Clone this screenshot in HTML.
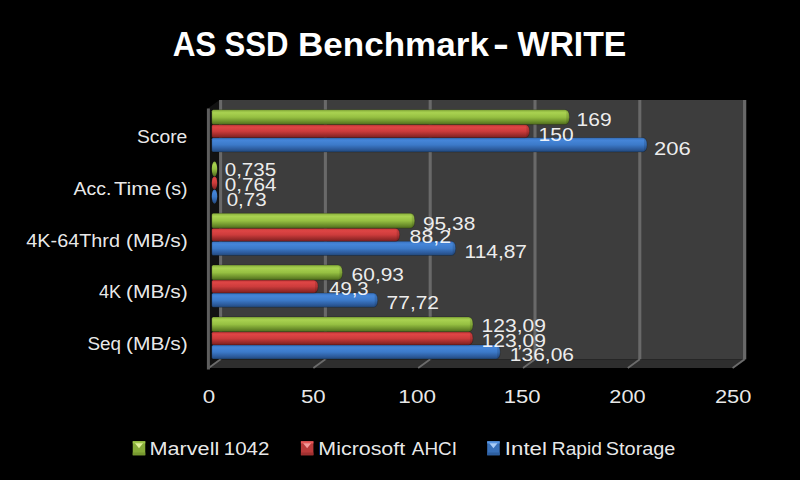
<!DOCTYPE html>
<html><head><meta charset="utf-8"><title>AS SSD Benchmark - WRITE</title>
<style>
html,body{margin:0;padding:0;background:#000;}
body{width:800px;height:480px;overflow:hidden;font-family:"Liberation Sans",sans-serif;}
svg{display:block;position:absolute;left:0;top:0;}
text{font-family:"Liberation Sans",sans-serif;fill:#fff;fill-opacity:.93;}
</style></head><body>
<svg width="800" height="480" viewBox="0 0 800 480">
<defs>
<linearGradient id="gG" x1="0" y1="0" x2="0" y2="1">
<stop offset="0" stop-color="#86ad3a"/><stop offset="0.2" stop-color="#a9d251"/><stop offset="0.5" stop-color="#96c042"/><stop offset="0.8" stop-color="#6c8f2b"/><stop offset="1" stop-color="#4e6a1d"/></linearGradient>
<linearGradient id="gR" x1="0" y1="0" x2="0" y2="1">
<stop offset="0" stop-color="#c43838"/><stop offset="0.2" stop-color="#de4545"/><stop offset="0.5" stop-color="#cd3c3c"/><stop offset="0.8" stop-color="#9c2b2b"/><stop offset="1" stop-color="#7a2020"/></linearGradient>
<linearGradient id="gB" x1="0" y1="0" x2="0" y2="1">
<stop offset="0" stop-color="#3873c0"/><stop offset="0.2" stop-color="#4585d8"/><stop offset="0.5" stop-color="#3c7ac9"/><stop offset="0.8" stop-color="#2d5c9e"/><stop offset="1" stop-color="#224879"/></linearGradient>
</defs>
<rect width="800" height="480" fill="#000"/>

<rect x="219.5" y="100" width="526.75" height="259.3" fill="#3d3d3d"/>
<polygon points="219.5,100 207.5,108.7 207.5,368.0 219.5,359.3" fill="#121212"/>
<polygon points="219.5,359.3 746.25,359.3 734.25,368.0 207.5,368.0" fill="#2e2e2e"/>
<line x1="220.60" y1="100" x2="220.60" y2="359.3" stroke="#696969" stroke-width="3.1"/>
<line x1="220.60" y1="359.3" x2="208.60" y2="368.0" stroke="#6c6c6c" stroke-width="1.8"/>
<line x1="325.40" y1="100" x2="325.40" y2="359.3" stroke="#696969" stroke-width="3.1"/>
<line x1="325.40" y1="359.3" x2="313.40" y2="368.0" stroke="#6c6c6c" stroke-width="1.8"/>
<line x1="430.20" y1="100" x2="430.20" y2="359.3" stroke="#696969" stroke-width="3.1"/>
<line x1="430.20" y1="359.3" x2="418.20" y2="368.0" stroke="#6c6c6c" stroke-width="1.8"/>
<line x1="535.00" y1="100" x2="535.00" y2="359.3" stroke="#696969" stroke-width="3.1"/>
<line x1="535.00" y1="359.3" x2="523.00" y2="368.0" stroke="#6c6c6c" stroke-width="1.8"/>
<line x1="639.80" y1="100" x2="639.80" y2="359.3" stroke="#696969" stroke-width="3.1"/>
<line x1="639.80" y1="359.3" x2="627.80" y2="368.0" stroke="#6c6c6c" stroke-width="1.8"/>
<line x1="744.60" y1="100" x2="744.60" y2="359.3" stroke="#696969" stroke-width="3.1"/>
<line x1="744.60" y1="359.3" x2="732.60" y2="368.0" stroke="#6c6c6c" stroke-width="1.8"/>
<line x1="208.4" y1="108.4" x2="208.4" y2="369.4" stroke="#5e5e5e" stroke-width="3"/>
<path d="M213.30,137.70 H642.52 Q647.02,137.70 647.02,144.80 Q647.02,151.90 642.52,151.90 H213.30 Q211.80,151.90 211.80,150.40 V139.20 Q211.80,137.70 213.30,137.70Z" fill="url(#gB)" stroke="#000" stroke-opacity="0.22" stroke-width="1"/>
<path d="M644.02,138.20 Q647.02,137.70 647.02,144.80 Q647.02,151.90 644.02,151.40Z" fill="#000" opacity="0.12"/>
<path d="M213.30,124.60 H524.94 Q529.44,124.60 529.44,131.15 Q529.44,137.70 524.94,137.70 H213.30 Q211.80,137.70 211.80,136.20 V126.10 Q211.80,124.60 213.30,124.60Z" fill="url(#gR)" stroke="#000" stroke-opacity="0.22" stroke-width="1"/>
<path d="M526.44,125.10 Q529.44,124.60 529.44,131.15 Q529.44,137.70 526.44,137.20Z" fill="#000" opacity="0.12"/>
<path d="M213.30,109.70 H564.83 Q569.33,109.70 569.33,117.15 Q569.33,124.60 564.83,124.60 H213.30 Q211.80,124.60 211.80,123.10 V111.20 Q211.80,109.70 213.30,109.70Z" fill="url(#gG)" stroke="#000" stroke-opacity="0.22" stroke-width="1"/>
<path d="M566.33,110.20 Q569.33,109.70 569.33,117.15 Q569.33,124.60 566.33,124.10Z" fill="#000" opacity="0.12"/>
<ellipse cx="214.50" cy="196.60" rx="2.70" ry="7.10" fill="url(#gB)"/>
<ellipse cx="214.50" cy="182.95" rx="2.70" ry="6.55" fill="url(#gR)"/>
<ellipse cx="214.50" cy="168.95" rx="2.70" ry="7.45" fill="url(#gG)"/>
<path d="M213.30,241.30 H451.18 Q455.68,241.30 455.68,248.40 Q455.68,255.50 451.18,255.50 H213.30 Q211.80,255.50 211.80,254.00 V242.80 Q211.80,241.30 213.30,241.30Z" fill="url(#gB)" stroke="#000" stroke-opacity="0.22" stroke-width="1"/>
<path d="M452.68,241.80 Q455.68,241.30 455.68,248.40 Q455.68,255.50 452.68,255.00Z" fill="#000" opacity="0.12"/>
<path d="M213.30,228.20 H395.18 Q399.68,228.20 399.68,234.75 Q399.68,241.30 395.18,241.30 H213.30 Q211.80,241.30 211.80,239.80 V229.70 Q211.80,228.20 213.30,228.20Z" fill="url(#gR)" stroke="#000" stroke-opacity="0.22" stroke-width="1"/>
<path d="M396.68,228.70 Q399.68,228.20 399.68,234.75 Q399.68,241.30 396.68,240.80Z" fill="#000" opacity="0.12"/>
<path d="M213.30,213.30 H410.26 Q414.76,213.30 414.76,220.75 Q414.76,228.20 410.26,228.20 H213.30 Q211.80,228.20 211.80,226.70 V214.80 Q211.80,213.30 213.30,213.30Z" fill="url(#gG)" stroke="#000" stroke-opacity="0.22" stroke-width="1"/>
<path d="M411.76,213.80 Q414.76,213.30 414.76,220.75 Q414.76,228.20 411.76,227.70Z" fill="#000" opacity="0.12"/>
<path d="M213.30,293.10 H373.18 Q377.68,293.10 377.68,300.20 Q377.68,307.30 373.18,307.30 H213.30 Q211.80,307.30 211.80,305.80 V294.60 Q211.80,293.10 213.30,293.10Z" fill="url(#gB)" stroke="#000" stroke-opacity="0.22" stroke-width="1"/>
<path d="M374.68,293.60 Q377.68,293.10 377.68,300.20 Q377.68,307.30 374.68,306.80Z" fill="#000" opacity="0.12"/>
<path d="M213.30,280.00 H313.51 Q318.01,280.00 318.01,286.55 Q318.01,293.10 313.51,293.10 H213.30 Q211.80,293.10 211.80,291.60 V281.50 Q211.80,280.00 213.30,280.00Z" fill="url(#gR)" stroke="#000" stroke-opacity="0.22" stroke-width="1"/>
<path d="M315.01,280.50 Q318.01,280.00 318.01,286.55 Q318.01,293.10 315.01,292.60Z" fill="#000" opacity="0.12"/>
<path d="M213.30,265.10 H337.93 Q342.43,265.10 342.43,272.55 Q342.43,280.00 337.93,280.00 H213.30 Q211.80,280.00 211.80,278.50 V266.60 Q211.80,265.10 213.30,265.10Z" fill="url(#gG)" stroke="#000" stroke-opacity="0.22" stroke-width="1"/>
<path d="M339.43,265.60 Q342.43,265.10 342.43,272.55 Q342.43,280.00 339.43,279.50Z" fill="#000" opacity="0.12"/>
<path d="M213.30,344.90 H495.67 Q500.17,344.90 500.17,352.00 Q500.17,359.10 495.67,359.10 H213.30 Q211.80,359.10 211.80,357.60 V346.40 Q211.80,344.90 213.30,344.90Z" fill="url(#gB)" stroke="#000" stroke-opacity="0.22" stroke-width="1"/>
<path d="M497.17,345.40 Q500.17,344.90 500.17,352.00 Q500.17,359.10 497.17,358.60Z" fill="#000" opacity="0.12"/>
<path d="M213.30,331.80 H468.44 Q472.94,331.80 472.94,338.35 Q472.94,344.90 468.44,344.90 H213.30 Q211.80,344.90 211.80,343.40 V333.30 Q211.80,331.80 213.30,331.80Z" fill="url(#gR)" stroke="#000" stroke-opacity="0.22" stroke-width="1"/>
<path d="M469.94,332.30 Q472.94,331.80 472.94,338.35 Q472.94,344.90 469.94,344.40Z" fill="#000" opacity="0.12"/>
<path d="M213.30,316.90 H468.44 Q472.94,316.90 472.94,324.35 Q472.94,331.80 468.44,331.80 H213.30 Q211.80,331.80 211.80,330.30 V318.40 Q211.80,316.90 213.30,316.90Z" fill="url(#gG)" stroke="#000" stroke-opacity="0.22" stroke-width="1"/>
<path d="M469.94,317.40 Q472.94,316.90 472.94,324.35 Q472.94,331.80 469.94,331.30Z" fill="#000" opacity="0.12"/>
<text id="t0" x="136.93" y="143.30" font-size="18" textLength="50.35" lengthAdjust="spacingAndGlyphs">Score</text>
<text id="t1" x="576.61" y="126.20" font-size="17.7" textLength="35.02" lengthAdjust="spacingAndGlyphs">169</text>
<text id="t2" x="538.59" y="141.20" font-size="17.7" textLength="34.98" lengthAdjust="spacingAndGlyphs">150</text>
<text id="t3" x="653.97" y="154.90" font-size="17.7" textLength="36.71" lengthAdjust="spacingAndGlyphs">206</text>
<text id="t4" x="73.53" y="194.70" font-size="18" textLength="37.87" lengthAdjust="spacingAndGlyphs">Acc.</text>
<text id="t5" x="114.07" y="194.70" font-size="18" textLength="47.11" lengthAdjust="spacingAndGlyphs">Time</text>
<text id="t6" x="164.67" y="194.70" font-size="18" textLength="22.89" lengthAdjust="spacingAndGlyphs">(s)</text>
<text id="t7" x="224.72" y="176.40" font-size="17.7" textLength="51.44" lengthAdjust="spacingAndGlyphs">0,735</text>
<text id="t8" x="224.69" y="190.90" font-size="17.7" textLength="51.78" lengthAdjust="spacingAndGlyphs">0,764</text>
<text id="t9" x="226.69" y="206.20" font-size="17.7" textLength="39.98" lengthAdjust="spacingAndGlyphs">0,73</text>
<text id="t10" x="26.32" y="247.10" font-size="18" textLength="93.65" lengthAdjust="spacingAndGlyphs">4K-64Thrd</text>
<text id="t11" x="126.08" y="247.10" font-size="18" textLength="61.73" lengthAdjust="spacingAndGlyphs">(MB/s)</text>
<text id="t12" x="422.95" y="229.70" font-size="17.7" textLength="52.34" lengthAdjust="spacingAndGlyphs">95,38</text>
<text id="t13" x="409.58" y="242.70" font-size="17.7" textLength="41.42" lengthAdjust="spacingAndGlyphs">88,2</text>
<text id="t14" x="464.57" y="258.20" font-size="17.7" textLength="62.43" lengthAdjust="spacingAndGlyphs">114,87</text>
<text id="t15" x="99.00" y="298.30" font-size="18" textLength="22.22" lengthAdjust="spacingAndGlyphs">4K</text>
<text id="t16" x="126.08" y="298.30" font-size="18" textLength="61.73" lengthAdjust="spacingAndGlyphs">(MB/s)</text>
<text id="t17" x="351.60" y="281.20" font-size="17.7" textLength="52.40" lengthAdjust="spacingAndGlyphs">60,93</text>
<text id="t18" x="329.10" y="294.95" font-size="17.7" textLength="39.61" lengthAdjust="spacingAndGlyphs">49,3</text>
<text id="t19" x="386.60" y="308.70" font-size="17.7" textLength="52.40" lengthAdjust="spacingAndGlyphs">77,72</text>
<text id="t20" x="87.44" y="349.70" font-size="18" textLength="33.60" lengthAdjust="spacingAndGlyphs">Seq</text>
<text id="t21" x="126.08" y="349.70" font-size="18" textLength="61.73" lengthAdjust="spacingAndGlyphs">(MB/s)</text>
<text id="t22" x="481.53" y="332.20" font-size="17.7" textLength="64.47" lengthAdjust="spacingAndGlyphs">123,09</text>
<text id="t23" x="481.53" y="346.80" font-size="17.7" textLength="64.47" lengthAdjust="spacingAndGlyphs">123,09</text>
<text id="t24" x="509.80" y="361.20" font-size="17.7" textLength="64.20" lengthAdjust="spacingAndGlyphs">136,06</text>
<text id="t25" x="202.79" y="402.60" font-size="17.5" textLength="12.43" lengthAdjust="spacingAndGlyphs">0</text>
<text id="t26" x="301.00" y="402.60" font-size="17.5" textLength="24.72" lengthAdjust="spacingAndGlyphs">50</text>
<text id="t27" x="398.38" y="402.60" font-size="17.5" textLength="37.54" lengthAdjust="spacingAndGlyphs">100</text>
<text id="t28" x="503.80" y="402.60" font-size="17.5" textLength="36.84" lengthAdjust="spacingAndGlyphs">150</text>
<text id="t29" x="609.37" y="402.60" font-size="17.5" textLength="36.27" lengthAdjust="spacingAndGlyphs">200</text>
<text id="t30" x="714.97" y="402.60" font-size="17.5" textLength="36.43" lengthAdjust="spacingAndGlyphs">250</text>
<text id="t31" x="172.64" y="56.40" font-size="35.5" textLength="43.77" lengthAdjust="spacingAndGlyphs" font-weight="bold" style="fill-opacity:1">AS</text>
<text id="t32" x="224.57" y="56.40" font-size="35.5" textLength="63.96" lengthAdjust="spacingAndGlyphs" font-weight="bold" style="fill-opacity:1">SSD</text>
<text id="t33" x="298.02" y="56.40" font-size="34" textLength="190.90" lengthAdjust="spacingAndGlyphs" font-weight="bold" style="fill-opacity:1">Benchmark</text>
<text id="t34" x="493.05" y="56.40" font-size="35.5" textLength="15.87" lengthAdjust="spacingAndGlyphs" font-weight="bold" style="fill-opacity:1">-</text>
<text id="t35" x="517.61" y="56.40" font-size="35.5" textLength="108.71" lengthAdjust="spacingAndGlyphs" font-weight="bold" style="fill-opacity:1">WRITE</text>
<rect x="132.75" y="441.25" width="12.5" height="14" fill="#86ab38"/>
<rect x="132.75" y="441.25" width="12.5" height="2.2" fill="#a0c84a"/>
<rect x="132.75" y="452.5" width="12.5" height="2.75" fill="#76982f"/>
<polygon points="134.95,443.3 143.05,443.3 139.0,448.3" fill="#dff09a"/>
<text id="t36" x="149.52" y="454.60" font-size="17.5" textLength="69.76" lengthAdjust="spacingAndGlyphs">Marvell</text>
<text id="t37" x="223.80" y="454.60" font-size="17.5" textLength="45.52" lengthAdjust="spacingAndGlyphs">1042</text>
<rect x="300.9" y="441.25" width="12.5" height="14" fill="#ba3a3a"/>
<rect x="300.9" y="441.25" width="12.5" height="2.2" fill="#e85858"/>
<rect x="300.9" y="452.5" width="12.5" height="2.75" fill="#a03030"/>
<polygon points="303.09999999999997,443.3 311.2,443.3 307.15,448.3" fill="#f59a9a"/>
<text id="t38" x="318.38" y="454.60" font-size="17.5" textLength="86.73" lengthAdjust="spacingAndGlyphs">Microsoft</text>
<text id="t39" x="411.87" y="454.60" font-size="17.5" textLength="45.17" lengthAdjust="spacingAndGlyphs">AHCI</text>
<rect x="487.2" y="441.25" width="12.5" height="14" fill="#3870b9"/>
<rect x="487.2" y="441.25" width="12.5" height="2.2" fill="#5896e4"/>
<rect x="487.2" y="452.5" width="12.5" height="2.75" fill="#2d5e9f"/>
<polygon points="489.4,443.3 497.5,443.3 493.45,448.3" fill="#a8ccf8"/>
<text id="t40" x="504.87" y="454.60" font-size="17.5" textLength="42.07" lengthAdjust="spacingAndGlyphs">Intel</text>
<text id="t41" x="551.78" y="454.60" font-size="17.5" textLength="50.17" lengthAdjust="spacingAndGlyphs">Rapid</text>
<text id="t42" x="605.82" y="454.60" font-size="17.5" textLength="69.62" lengthAdjust="spacingAndGlyphs">Storage</text>
</svg></body></html>
